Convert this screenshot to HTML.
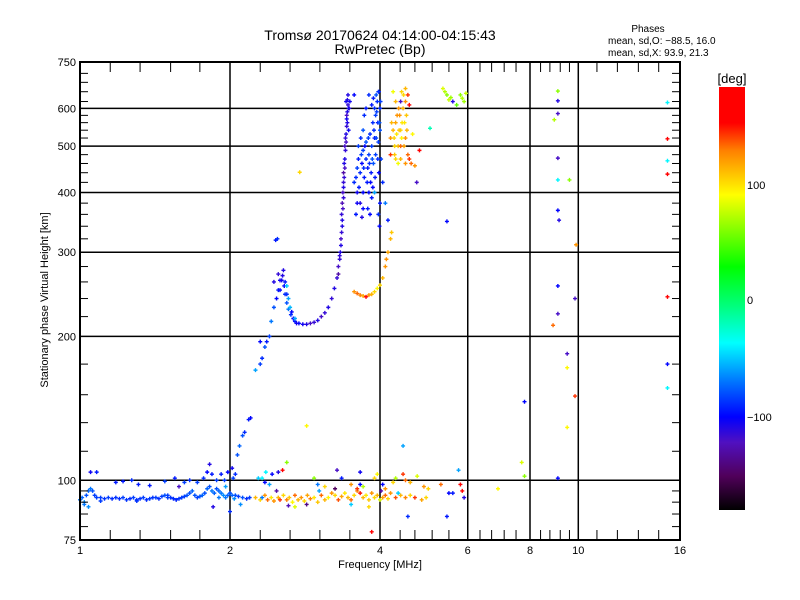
<!DOCTYPE html>
<html><head><meta charset="utf-8">
<style>
html,body{margin:0;padding:0;background:#fff;}
svg{display:block;font-family:"Liberation Sans",sans-serif;}
</style></head>
<body>
<svg id="chart" width="800" height="600" viewBox="0 0 800 600" xmlns="http://www.w3.org/2000/svg">
<defs>
<linearGradient id="cmap" x1="0" y1="1" x2="0" y2="0">
<stop offset="0" stop-color="#000000"/><stop offset="0.08" stop-color="#50005a"/>
<stop offset="0.16" stop-color="#5010c0"/><stop offset="0.22" stop-color="#0000ff"/>
<stop offset="0.30" stop-color="#0070ff"/><stop offset="0.395" stop-color="#00ffff"/>
<stop offset="0.48" stop-color="#00ff80"/><stop offset="0.575" stop-color="#00ff00"/>
<stop offset="0.745" stop-color="#ffff00"/><stop offset="0.85" stop-color="#ff8000"/>
<stop offset="0.915" stop-color="#ff0000"/><stop offset="1" stop-color="#ff0000"/>
</linearGradient>
</defs>
<g id="grid"></g>
<g id="marks"></g>
<rect x="80" y="62" width="600" height="478" fill="none" stroke="#000" stroke-width="2"/>
<g id="ticks"></g>
<text x="380" y="40" font-size="14" text-anchor="middle">Tromsø 20170624 04:14:00-04:15:43</text>
<text x="380" y="54" font-size="14" text-anchor="middle">RwPretec (Bp)</text>
<text x="648" y="32" font-size="10" text-anchor="middle">Phases</text>
<text x="608" y="44" font-size="10">mean, sd,O: −88.5, 16.0</text>
<text x="608" y="56" font-size="10">mean, sd,X:  93.9, 21.3</text>
<text x="380" y="568" font-size="11" text-anchor="middle">Frequency [MHz]</text>
<text transform="translate(48,300) rotate(-90)" font-size="11" text-anchor="middle">Stationary phase Virtual Height [km]</text>
<rect x="719" y="87" width="26" height="423" fill="url(#cmap)"/>
<text x="732" y="83" font-size="13" text-anchor="middle">[deg]</text>
<text x="747" y="189" font-size="11">100</text>
<text x="747" y="304" font-size="11">0</text>
<text x="747" y="421" font-size="11">−100</text>
</svg>
<script>
const xTickLabels=[1,2,4,6,8,10,16];
const xGrid=[2,4,6,8,10];
const xMinor=[1.15,1.32,1.52,1.74,2.3,2.64,3.03,3.48,4.39,4.7,5.09,5.5,6.35,6.7,7.1,7.5,8.4,8.77,9.2,9.6,10.9,11.98,13.2,14.5];
const yTickLabels=[75,100,200,300,400,500,600,750];
const yGrid=[100,200,300,400,500,600];
const yMinor=[80,85,90,95,115,132,151,175,220,240,260,280,320,340,360,380,420,440,460,480,520,540,560,580,620,650,680,710];
const freqs=[1.00,1.01,1.02,1.03,1.04,1.05,1.06,1.07,1.08,1.10,1.12,1.14,1.16,1.18,1.20,1.22,1.24,1.26,1.28,1.30,1.32,1.34,1.36,1.38,1.40,1.42,1.44,1.46,1.48,1.50,1.52,1.54,1.56,1.58,1.60,1.62,1.64,1.66,1.68,1.70,1.72,1.74,1.76,1.78,1.80,1.82,1.84,1.86,1.88,1.90,1.92,1.94,1.96,1.98,2.00,2.02,2.05,2.08,2.12,2.16,2.19,1.02,1.10,1.30,1.50,1.90,2.04,1.04,
1.05,1.08,1.18,1.22,1.27,1.31,1.38,1.48,1.55,1.58,1.62,1.66,1.72,1.77,1.80,1.82,1.84,1.88,1.92,1.95,1.98,2.02,2.05,2.07,2.09,2.12,2.14,2.18,2.20,1.85,2.00,2.10,2.03,1.96,
2.25,2.30,2.35,2.38,2.42,2.45,2.50,2.52,2.56,2.60,2.63,2.67,2.70,2.74,2.78,2.82,2.86,2.90,2.95,3.00,3.05,3.10,3.15,3.20,3.25,3.30,3.35,3.40,3.45,3.50,3.55,3.60,3.65,3.70,3.75,3.80,3.85,3.90,3.95,4.00,4.05,4.10,4.15,4.20,4.30,4.40,4.50,4.60,4.70,4.85,4.95,
2.32,2.48,2.62,2.70,2.85,3.25,3.02,3.50,3.80,4.02,4.35,
2.28,2.32,2.35,2.40,2.36,2.43,2.50,2.55,2.60,2.85,2.95,3.00,3.10,3.35,3.50,3.60,3.65,3.70,3.90,3.95,4.05,4.10,4.25,4.30,4.45,4.50,4.60,4.75,4.90,5.00,5.30,5.50,5.60,5.80,5.85,5.90,5.75,4.45,4.55,5.45,3.85,3.65,3.28,
2.30,2.32,2.35,2.37,2.40,2.42,2.45,2.48,2.50,2.52,2.55,2.57,2.58,2.60,2.62,2.65,2.68,2.70,2.75,2.80,2.85,2.90,2.95,3.00,3.05,3.10,3.15,3.20,3.24,3.28,3.30,3.32,3.34,3.35,3.36,3.37,3.38,3.38,3.39,3.40,3.40,3.41,3.42,3.42,3.43,3.43,3.44,3.45,3.44,3.46,3.38,3.36,3.33,3.30,
2.25,2.30,2.45,2.50,2.56,2.60,2.62,2.64,2.70,2.47,2.49,2.76,
3.55,3.60,3.62,3.65,3.68,3.70,3.72,3.75,3.75,3.78,3.80,3.82,3.83,3.85,3.87,3.88,3.90,3.90,3.92,3.93,3.95,3.96,3.97,3.98,4.00,4.00,4.02,3.98,4.00,3.97,3.99,3.60,3.65,3.58,3.70,3.68,3.62,3.70,3.72,3.80,3.85,3.92,3.85,3.80,3.75,3.55,3.48,4.05,4.10,4.15,3.90,
4.20,4.25,4.28,4.30,4.32,4.35,4.38,4.40,4.42,4.45,4.48,4.50,4.52,4.55,4.30,4.35,4.40,4.50,4.58,4.62,4.70,4.50,4.42,4.50,4.55,4.25,4.20,4.80,5.04,4.40,4.65,4.58,4.74,
3.55,3.60,3.65,3.70,3.75,3.80,3.85,3.90,3.95,4.00,4.05,4.10,4.15,4.20,4.22,4.12,5.45,
5.40,5.45,5.50,5.55,5.80,5.85,5.90,5.95,5.60,5.35,5.70,
9.1,9.1,9.1,8.95,9.1,9.1,9.6,9.1,9.15,9.9,9.1,9.85,9.1,8.9,9.5,9.5,9.85,7.8,9.5,7.7,7.8,9.1,6.9,15.1,15.1,15.1,15.1,15.1,15.1,15.1,
3.35,3.37,3.39,3.41,3.43,3.45,3.42,3.40,3.38,3.36,3.34,3.32,3.44,3.46,3.47,
3.58,3.63,3.67,3.71,3.73,3.77,3.79,3.81,3.84,3.86,3.89,3.91,3.94,3.96,3.99,4.01,3.97,3.88,3.93,3.87,3.66,3.60,3.70,3.78,3.82,
4.22,4.27,4.33,4.37,4.43,4.47,4.53,4.36,4.46,4.30,4.40,4.28,
2.52,2.54,2.58,2.60,2.66,2.72];
const heights=[91,92,90,93,95,96,95,93,92,92,91.5,92,91.5,92,91.5,92,91,91.5,92,91,91.5,92,91,91.5,92,92,91.5,92.5,93,93,92,91.5,91,91.5,92,92.5,93,94,95,93,92,92.5,93,94,96,97,95,94,96,95,94,93,92,93,94,93,93,92.5,92,91.5,92,89,90.5,90.5,92,92,91.5,88,
104,104,99,99.5,100,98,97.5,99.5,101,97,99,100,99,101,104,108,103,100,103,100,104,106,103,113,118,124,126,134,135,88,86,89,101,97,
92,91,93,91,92,90.5,92,91,93,91,92,90,93,91,92,90.5,93,91.5,92,90,93,91,92,94,93,91,92.5,94,92,91,93,95,94,92,93,91,94,92,93,91,92,93,91.5,94,92,93,92,93,92,91,92,
92,95,88.5,88,89,96,95,89,88,95,94,
101,101,99,98,104,103,104,105,109,130,101,98,97,101,98,96,98,97,101,103,98,96,99,101,103,100,99,102,97,96,98,94,94,98,95,92,105,118,84,84,78,104,105,
175,180,190,195,200,215,230,240,250,262,268,255,245,235,228,222,218,215,213,212,212,213,214,216,220,224,230,240,252,265,280,295,310,330,350,370,390,410,430,450,470,490,510,530,550,570,590,610,625,600,440,380,300,270,
170,195,260,270,275,255,240,230,218,318,320,441,
420,450,470,440,460,490,430,470,510,450,480,530,420,500,560,460,520,600,580,640,620,560,510,650,600,540,470,440,380,360,340,400,380,360,370,355,500,540,580,400,390,480,610,640,600,640,620,420,380,350,400,
520,540,500,560,530,500,580,540,520,600,560,520,580,480,470,460,470,460,470,460,455,620,650,660,640,650,480,490,545,620,530,610,420,
248,246,244,243,242,244,245,248,252,256,265,280,300,320,330,290,348,
650,640,625,632,640,630,620,645,620,660,610,
652,622,585,568,472,425,425,367,350,311,255,240,223,211,184,172,150,146,129,109,102,101,96,617,518,466,437,242,175,156,
360,400,460,520,580,640,620,500,420,340,320,290,560,540,600,
430,410,480,450,500,420,520,460,440,470,540,430,590,470,560,620,650,630,520,410,520,380,400,370,360,
560,520,580,540,560,500,540,600,640,620,500,480,
250,262,260,245,225,213];
const phases=[-70,-75,-65,-80,-75,-70,-80,-85,-85,-85,-88,-85,-90,-88,-90,-85,-88,-90,-85,-90,-88,-85,-90,-85,-88,-85,-90,-85,-80,-85,-88,-90,-92,-88,-85,-85,-80,-80,-75,-80,-85,-80,-75,-80,-75,-80,-70,-75,-80,-75,-70,-65,-70,-75,-80,-75,-80,-85,-80,-90,-85,-70,-85,-88,-85,-70,-65,-65,
-105,-95,-95,-95,-90,-95,-95,-85,-95,-120,-85,-90,-85,-90,-100,-110,-95,-85,-95,-85,-100,-105,-90,-80,-75,-80,-90,-95,-100,-110,-90,-65,-85,-60,
110,100,120,130,95,120,110,140,100,125,105,90,130,110,120,100,115,125,95,105,130,110,90,120,100,135,115,95,110,130,100,125,145,110,95,105,120,100,110,80,115,130,100,120,135,110,125,100,140,115,100,
-70,-130,-125,80,-140,-150,-60,-50,100,-130,-50,
-50,-40,-100,-60,-40,-100,-110,170,60,90,60,-70,100,-95,120,140,-100,70,100,90,-100,120,100,70,140,130,110,80,120,100,130,-100,-95,150,175,-110,-60,-60,-90,-95,170,-105,-120,
-85,-90,-80,-95,-85,-70,-80,-100,-95,-105,-110,-100,-90,-80,-70,-90,-100,-95,-100,-105,-110,-120,-115,-110,-120,-115,-110,-115,-110,-115,-120,-115,-110,-115,-110,-120,-115,-110,-115,-120,-110,-115,-120,-110,-115,-105,-110,-115,-110,-100,-130,-125,-110,-130,
-60,-100,-110,-115,-110,-50,-60,-55,-60,-95,-90,100,
-90,-85,-95,-90,-100,-85,-95,-90,-80,-95,-85,-90,-100,-85,-90,-80,-95,-90,-85,-80,-90,-95,-85,-95,-90,-80,-85,-100,-95,-90,-100,-105,-110,-95,-100,-110,-85,-80,-90,-100,-95,-85,-95,-90,-95,-100,-105,-90,-70,-95,-60,
120,110,100,115,95,105,120,100,90,110,95,120,105,130,100,85,110,120,140,130,120,120,100,110,140,85,140,170,-20,-120,90,170,-120,
120,130,125,115,170,120,110,100,90,100,110,120,115,110,105,120,-100,
70,60,75,65,60,70,65,75,-110,80,50,
60,-110,-120,70,-120,-40,60,-100,-110,120,-100,-120,-120,130,-120,90,140,-100,90,80,60,-100,90,-40,170,-40,150,150,-100,-40,
-115,-120,-110,-115,-120,-110,-105,-120,-115,-110,-120,-115,-110,-105,-110,
-90,-95,-85,-90,-100,-95,-85,-90,-95,-80,-90,-95,-85,-90,-80,-85,-90,-95,-85,-100,-90,-105,-100,-95,-100,
110,100,120,105,95,115,110,120,100,110,130,105,
-100,-105,-95,-90,-100,-105];

const X0=80,X1=680,Y0=540,Y1=62;
function xs(f){return X0+(X1-X0)*Math.log2(f)/4;}
function ys(h){return Y0-(Y0-Y1)*Math.log10(h/75);}
const stops=[[0,[0,0,0]],[0.08,[80,0,90]],[0.16,[80,16,192]],[0.22,[0,0,255]],[0.30,[0,112,255]],[0.395,[0,255,255]],[0.48,[0,255,128]],[0.575,[0,255,0]],[0.745,[255,255,0]],[0.85,[255,128,0]],[0.915,[255,0,0]],[1,[255,0,0]]];
function cmap(p){
  let t=Math.max(0,Math.min(1,(p+180)/360));
  for(let i=1;i<stops.length;i++){
    if(t<=stops[i][0]){const a=stops[i-1],b=stops[i];const u=(t-a[0])/(b[0]-a[0]||1);
      const c=a[1].map((v,k)=>Math.round(v+(b[1][k]-v)*u));return `rgb(${c[0]},${c[1]},${c[2]})`;}
  }
  return 'rgb(255,0,0)';
}
const NS='http://www.w3.org/2000/svg';
function mk(tag,attrs,parent){const e=document.createElementNS(NS,tag);for(const k in attrs)e.setAttribute(k,attrs[k]);parent.appendChild(e);return e;}
const grid=document.getElementById('grid'),ticks=document.getElementById('ticks'),marks=document.getElementById('marks');
xGrid.forEach(f=>{
  const l=mk('line',{x1:xs(f),x2:xs(f),y1:Y1,y2:Y0,stroke:'#000','stroke-width':1.5},grid);
  
  
});
yGrid.forEach(h=>{
  const l=mk('line',{x1:X0,x2:X1,y1:ys(h),y2:ys(h),stroke:'#000','stroke-width':1.5},grid);
  
  
});
xMinor.forEach(f=>{
  const x=xs(f);
  const a=mk('line',{x1:x,x2:x,y1:Y0,y2:Y0-10,stroke:'#000','stroke-width':1},ticks);
  
  
  const b=mk('line',{x1:x,x2:x,y1:Y1,y2:Y1+10,stroke:'#000','stroke-width':1},ticks);
  
  
});
yMinor.forEach(h=>{
  const y=ys(h);
  const a=mk('line',{x1:X0,x2:X0+8,y1:y,y2:y,stroke:'#000','stroke-width':1},ticks);
  
  
  const b=mk('line',{x1:X1,x2:X1-8,y1:y,y2:y,stroke:'#000','stroke-width':1},ticks);
  
  
});
xTickLabels.forEach(f=>{
  const t=mk('text',{x:xs(f),y:Y0+14,'font-size':11,'text-anchor':'middle'},ticks);
  t.textContent=String(f);
  
  
});
yTickLabels.forEach(h=>{
  const t=mk('text',{x:X0-4,y:ys(h)+4,'font-size':11,'text-anchor':'end'},ticks);
  t.textContent=String(h);
  
  
});
for(let i=0;i<freqs.length;i++){
  const x=xs(freqs[i]),y=ys(heights[i]),c=cmap(phases[i]);
  const p=mk('path',{d:`M${x-2},${y}H${x+2}M${x},${y-2}V${y+2}`,stroke:c,'stroke-width':1.4,fill:'none'},marks);
  
  
}
</script>
</body></html>
